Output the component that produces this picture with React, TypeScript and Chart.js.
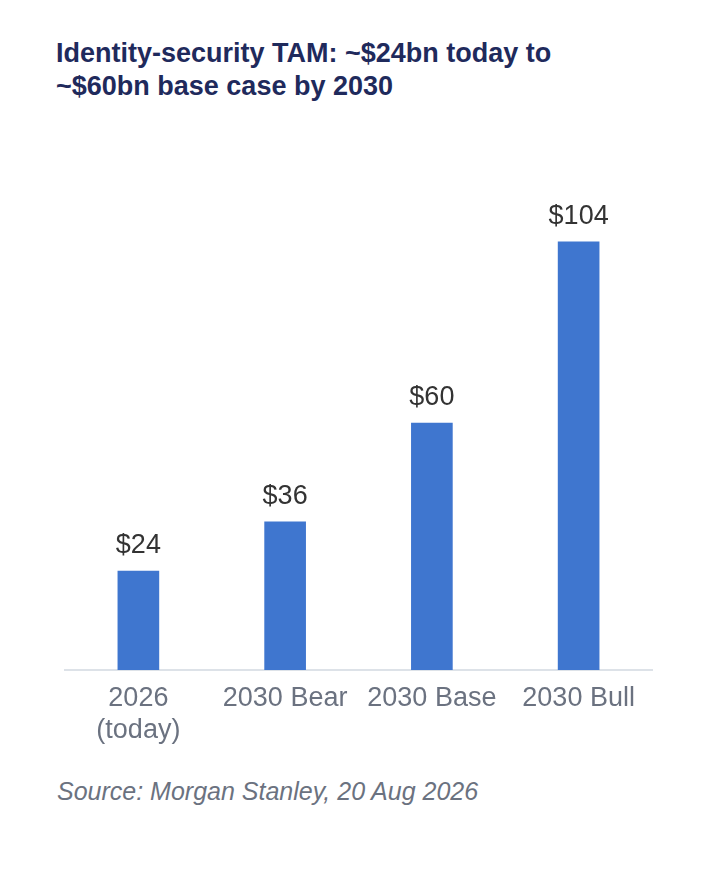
import { Chart, registerables } from 'chart.js';
import { useRef, useEffect } from 'react';
Chart.register(...registerables);

const categories = [['2026', '(today)'], '2030 Bear', '2030 Base', '2030 Bull'];
const tamValues = [24, 36, 60, 104];
const FONT = '"Liberation Sans", Arial, Helvetica, sans-serif';

// draws "$NN" above each bar
const valueLabels = {
    id: 'valueLabels',
    afterDatasetsDraw(chart: any) {
        const ctx = chart.ctx;
        const meta = chart.getDatasetMeta(0);
        ctx.save();
        ctx.font = `27px ${FONT}`;
        ctx.fillStyle = '#333333';
        ctx.textAlign = 'center';
        ctx.textBaseline = 'alphabetic';
        meta.data.forEach((bar: any, i: number) => {
            ctx.fillText('$' + tamValues[i], bar.x, bar.y - 18);
        });
        ctx.restore();
    }
};

const TamChart = () => {
    const chartRef = useRef(null);

    useEffect(() => {
        let myChart: any = null;

        if (chartRef.current) {
            myChart = new Chart(chartRef.current, {
                type: 'bar',
                data: {
                    labels: categories,
                    datasets: [{
                        label: 'TAM ($bn)',
                        data: tamValues,
                        backgroundColor: '#3F76CF',
                        barThickness: 41,
                    }]
                },
                options: {
                    animation: false,
                    responsive: false,
                    layout: {
                        padding: { top: 26, left: 65, right: 60, bottom: 0 }
                    },
                    plugins: {
                        legend: { display: false },
                        tooltip: { enabled: false }
                    },
                    scales: {
                        x: {
                            grid: { display: false, drawTicks: false },
                            border: { display: true, color: '#DDE2E8', width: 2 },
                            ticks: {
                                color: '#6B7280',
                                padding: 12,
                                font: { family: FONT, size: 27, lineHeight: 1.2 }
                            },
                            afterFit: (scale: any) => { scale.height = 100; }
                        },
                        y: {
                            display: false,
                            min: 0,
                            max: 120
                        }
                    }
                },
                plugins: [valueLabels]
            });
        }

        return () => {
            if (myChart) {
                myChart.destroy();
            }
        }
    }, []);

    return (
        <div style={{ position: 'absolute', left: 0, top: 0, width: 712, height: 882, background: '#fff', fontFamily: FONT }}>
            <div style={{ position: 'absolute', left: 56, top: 37, fontSize: 27, lineHeight: '33.4px', fontWeight: 'bold', color: '#1F2A5C', whiteSpace: 'nowrap' }}>
                Identity-security TAM: ~$24bn today to<br />~$60bn base case by 2030
            </div>
            <canvas ref={chartRef} width={712} height={620} style={{ position: 'absolute', left: 0, top: 150, width: 712, height: 620 }}></canvas>
            <div style={{ position: 'absolute', left: 57, top: 777, fontSize: 25, lineHeight: '28px', fontStyle: 'italic', color: '#6B7280', whiteSpace: 'nowrap' }}>
                Source: Morgan Stanley, 20 Aug 2026
            </div>
        </div>
    );
};

export default function App() {
    return <TamChart />;
}
